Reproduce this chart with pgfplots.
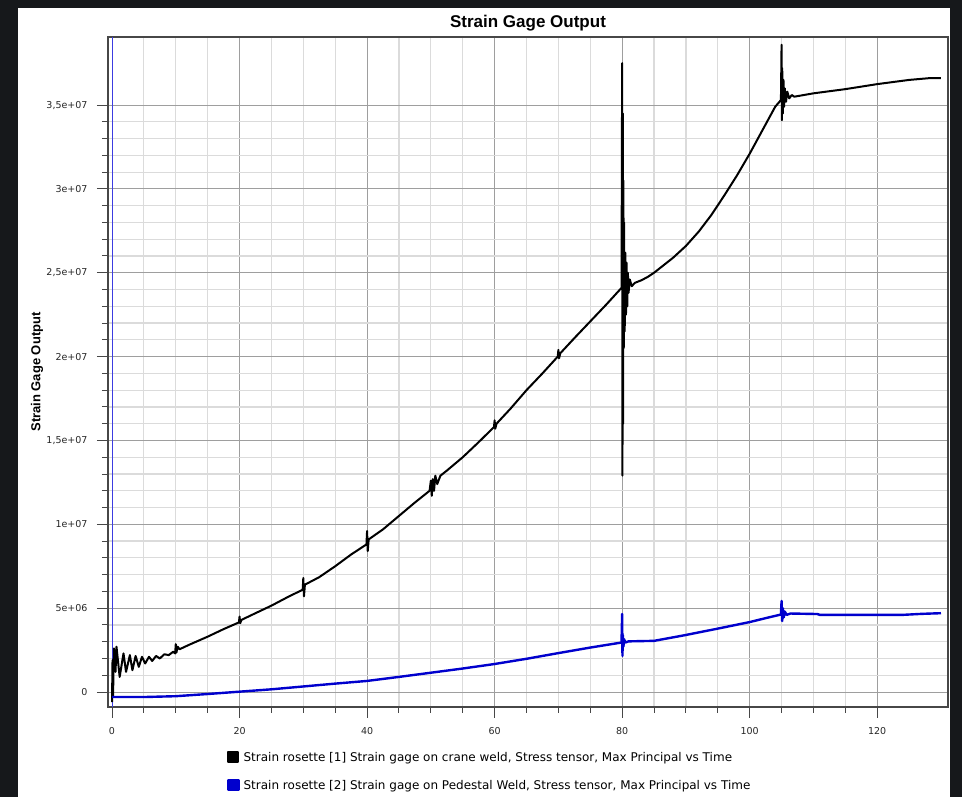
\documentclass[border=0pt]{standalone}
\usepackage{fontspec}
\setmainfont{DejaVu Sans}
\newfontfamily\libsans{Liberation Sans}
\usepackage{pgfplots}
\pgfplotsset{compat=1.18}
\definecolor{framec}{HTML}{16181B}
\definecolor{gblue}{RGB}{0,0,205}
\definecolor{vblue}{RGB}{60,60,225}
\begin{document}
\begin{tikzpicture}[x=1pt,y=1pt]
\fill[framec] (0,0) rectangle (962,797);
\fill[white] (18,0) rectangle (950,789);
\useasboundingbox (0,0) rectangle (962,797);
\begin{axis}[
  at={(108pt,90pt)}, anchor=south west,
  scale only axis, width=840pt, height=670pt,
  xmin=-0.63, xmax=131.1, ymin=-0.894, ymax=39.06,
  xtick={0,20,...,120}, minor x tick num=3,
  ytick={0,5,...,35}, minor y tick num=4,
  yticklabels={0,5e+06,1e+07,{1,5e+07},2e+07,{2,5e+07},3e+07,{3,5e+07}},
  grid=both,
  major grid style={draw=black!38, line width=0.9pt},
  minor grid style={draw=black!14, line width=1.2pt},
  axis line style={draw=black!72, line width=1.3pt},
  tick align=outside, xtick pos=left, ytick pos=left,
  major tick length=11pt, minor tick length=6pt,
  tick style={draw=black!72, line width=1pt},
  /pgf/number format/assume math mode=true,
  tick label style={font=\fontsize{9.5}{11}\selectfont, text=black!85},
  yticklabel style={xshift=-6pt},
  xticklabel style={yshift=-6pt},
  title={\libsans\bfseries Strain Gage Output},
  title style={font=\fontsize{17}{19}\selectfont, at={(axis description cs:0.5,1)}, anchor=base, yshift=3pt},
  ylabel={\libsans\bfseries Strain Gage Output},
  ylabel style={font=\fontsize{13}{15}\selectfont, at={(axis description cs:-0.0845,0.5)}, anchor=center},
  legend style={at={(axis description cs:0.1417,-0.065)}, anchor=north west, draw=none, fill=none,
    font=\fontsize{12}{14}\selectfont, row sep=16pt, column sep=3pt, inner sep=0pt,
    nodes={inner sep=1pt, text depth=0pt}},
  legend cell align=left,
  legend image code/.code={\fill[#1] (0pt,-5pt) rectangle (10pt,5pt);},
]
\addplot[vblue, line width=0.8pt, forget plot] coordinates {(0,-0.894) (0,39.06)};
\addplot[black, line width=2pt, line join=round] coordinates {
(0,-0.6) (0.08,1.9) (0.16,-0.3) (0.3,2.6) (0.55,1.2) (0.7,2.7) (1.2,0.9) (1.8,2.3) (2.2,1.2) (2.8,2.2) (3.2,1.3) (3.7,2.15) (4.2,1.5) (4.7,2.1) (5.2,1.7) (5.8,2.1) (6.3,1.85) (6.9,2.15) (7.5,2.0) (8.2,2.25) (8.9,2.2) (9.6,2.4) (9.9,2.3) (10,2.85) (10.1,2.35) (10.3,2.7) (10.6,2.55) (12,2.8) (15,3.3) (17.5,3.75) (19.9,4.15) (20,4.5) (20.1,4.1) (20.3,4.3) (22.5,4.7) (25,5.15) (27.5,5.65) (29.9,6.1) (30,6.8) (30.1,5.7) (30.25,6.4) (32.5,6.85) (35,7.5) (37.5,8.2) (39.9,8.8) (40,9.6) (40.1,8.4) (40.25,9.1) (42.5,9.7) (45,10.5) (47.5,11.3) (49.8,12.0) (50,12.6) (50.15,11.7) (50.3,12.7) (50.5,12.0) (50.7,12.9) (51,12.4) (51.5,12.9) (52.5,13.2) (55,14.0) (57.5,14.9) (59.9,15.8) (60,16.2) (60.1,15.7) (60.3,16.0) (62.5,16.9) (65,18.0) (67.5,19.0) (69.9,20.0) (70,20.4) (70.1,19.9) (70.3,20.2) (72.5,21.1) (75,22.1) (77.5,23.1) (79.9,24.1) (80,37.5) (80.05,12.9) (80.1,34.5) (80.15,16.0) (80.2,30.5) (80.25,20.5) (80.3,28.0) (80.4,21.5) (80.5,26.2) (80.6,22.5) (80.7,25.6) (80.8,23.0) (80.9,25.0) (81.0,23.8) (81.2,24.6) (81.5,24.2) (82,24.4) (83,24.55) (84,24.75) (85,25.0) (86,25.3) (87,25.6) (88,25.9) (89,26.25) (90,26.6) (92,27.45) (94,28.45) (96,29.6) (98,30.8) (100,32.1) (102,33.5) (104,34.9) (104.9,35.3) (105.0,38.6) (105.05,34.1) (105.1,37.2) (105.2,34.5) (105.3,36.5) (105.4,34.9) (105.5,36.0) (105.7,35.2) (105.9,35.8) (106.2,35.4) (106.6,35.6) (107,35.5) (110,35.7) (115,35.95) (120,36.25) (125,36.5) (128,36.6) (130,36.6)
};
\addlegendentry{Strain rosette [1] Strain gage on crane weld, Stress tensor, Max Principal vs Time}
\addplot[gblue, line width=2.4pt, line join=round] coordinates {
(0,-0.3) (5,-0.3) (10,-0.25) (15,-0.12) (20,0.02) (25,0.16) (30,0.33) (35,0.5) (40,0.66) (45,0.9) (50,1.15) (55,1.4) (60,1.67) (65,1.98) (70,2.32) (75,2.65) (79.9,2.95) (80,4.65) (80.05,2.15) (80.1,3.4) (80.2,2.7) (80.3,3.15) (80.5,2.95) (81,3.02) (85,3.05) (90,3.4) (95,3.78) (100,4.17) (103,4.45) (104.9,4.62) (105,5.43) (105.1,4.23) (105.2,5.0) (105.35,4.45) (105.5,4.8) (105.8,4.6) (106.4,4.68) (110.6,4.65) (111,4.6) (124,4.6) (127,4.66) (130,4.7)
};
\addlegendentry{Strain rosette [2] Strain gage on Pedestal Weld, Stress tensor, Max Principal vs Time}
\end{axis}
\end{tikzpicture}
\end{document}
